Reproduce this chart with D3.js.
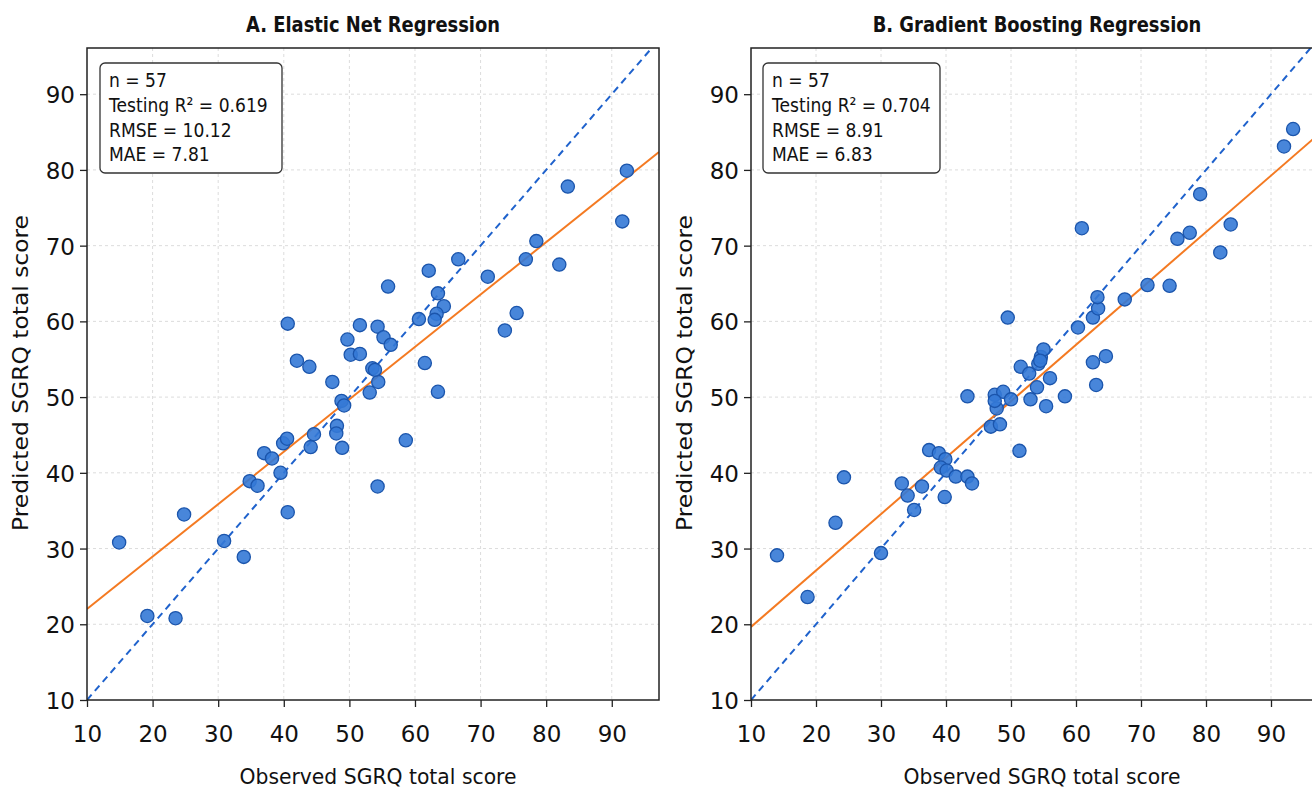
<!DOCTYPE html>
<html lang="en">
<head>
<meta charset="utf-8">
<title>Observed vs predicted SGRQ total score</title>
<script src="https://cdn.jsdelivr.net/npm/d3@7"></script>
<style>
  body { margin: 0; background: #fff; }
  svg text { font-family: "DejaVu Sans", sans-serif; fill: #111; }
  .title { font-size: 22px; font-weight: bold; text-anchor: middle; }
  .axisLabel { font-size: 21px; text-anchor: middle; }
  .tick text { font-size: 23px; }
  .stats { font-size: 20px; }
  .grid line { stroke: #dcdcdc; stroke-dasharray: 3,3; }
</style>
</head>
<body>
<div id="chart"></div>
<script>
// panel A: elastic net, observed / predicted
var enetObserved = [14.9,19.2,23.5,24.8,30.9,33.9,34.8,36.0,40.6,39.5,37.0,38.2,39.9,40.5,40.6,42.0,43.9,44.6,44.1,47.4,
  48.8,49.2,48.1,48.0,48.9,49.7,50.2,51.6,51.6,54.3,53.5,53.1,54.3,55.9,62.1,66.6,63.5,64.4,63.3,63.0,
  60.6,55.2,56.3,71.1,73.7,75.5,76.9,78.5,82.0,83.3,91.6,92.3,54.4,58.6,61.5,63.5,53.9];
var enetPredicted = [30.8,21.1,20.8,34.5,31.0,28.9,38.9,38.3,34.8,40.0,42.6,41.9,43.9,44.5,59.7,54.8,54.0,45.1,43.4,52.0,
  49.5,48.9,46.2,45.2,43.3,57.6,55.6,55.7,59.5,59.3,53.8,50.6,38.2,64.6,66.7,68.2,63.7,62.0,61.0,60.2,
  60.3,57.9,56.9,65.9,58.8,61.1,68.2,70.6,67.5,77.8,73.2,79.9,52.0,44.3,54.5,50.7,53.6];

// panel B: gradient boosting, observed / predicted
var gbObserved = [14.0,18.7,23.0,24.3,30.0,33.2,34.1,35.1,36.3,37.4,38.9,39.9,39.2,40.1,39.8,41.5,43.3,44.0,43.3,46.9,
  48.3,47.5,47.8,48.8,50.0,51.3,53.0,54.0,55.4,49.5,51.5,52.8,54.2,54.6,55.0,56.0,60.3,62.6,63.4,63.3,
  62.6,64.6,60.9,67.5,71.0,74.4,75.6,77.5,79.1,82.2,83.8,92.0,93.4,63.1,58.3,47.5,54.5];
var gbPredicted = [29.1,23.6,33.4,39.4,29.4,38.6,37.0,35.1,38.2,43.0,42.6,41.8,40.7,40.3,36.8,39.5,39.5,38.6,50.1,46.1,
  46.4,50.3,48.5,50.7,49.7,42.9,49.7,51.3,48.8,60.5,54.0,53.1,54.4,55.3,56.3,52.5,59.2,60.5,61.7,63.2,
  54.6,55.4,72.3,62.9,64.8,64.7,70.9,71.7,76.8,69.1,72.8,83.1,85.4,51.6,50.1,49.5,54.8];

var panelTitles = ["A. Elastic Net Regression", "B. Gradient Boosting Regression"];
var statLines = [
  ["n = 57", "Testing R² = 0.619", "RMSE = 10.12", "MAE = 7.81"],
  ["n = 57", "Testing R² = 0.704", "RMSE = 8.91", "MAE = 6.83"]
];
// fitted line (intercept, slope)
var fitIntercept = [15.1, 12.2];
var fitSlope = [0.692, 0.745];
var xTicks = [10,20,30,40,50,60,70,80,90];
var yTicks = [10,20,30,40,50,60,70,80,90];
var xMax = [97.2, 98.0];
var yMax = 96.1;

var W = 1312, H = 789;
var svg = d3.select("#chart").append("svg").attr("width", W).attr("height", H);

var panels = [
  {left: 87, obs: enetObserved, pred: enetPredicted, boxW: 182},
  {left: 751, obs: gbObserved, pred: gbPredicted, boxW: 177}
];
var plotTop = 48, plotW = 572, plotH = 652;

panels.forEach(function(p, i){
  var g = svg.append("g").attr("transform", "translate(" + p.left + "," + plotTop + ")");
  var x = d3.scaleLinear().domain([10, xMax[i]]).range([0, plotW]);
  var y = d3.scaleLinear().domain([10, yMax]).range([plotH, 0]);

  var clipId = "clip" + i;
  g.append("clipPath").attr("id", clipId).append("rect").attr("width", plotW).attr("height", plotH);

  // grid
  g.append("g").attr("class", "grid")
    .selectAll("line").data(xTicks.slice(1)).enter().append("line")
    .attr("x1", function(d){ return x(d); }).attr("x2", function(d){ return x(d); })
    .attr("y1", 0).attr("y2", plotH);
  g.append("g").attr("class", "grid")
    .selectAll("line").data(yTicks.slice(1)).enter().append("line")
    .attr("y1", function(d){ return y(d); }).attr("y2", function(d){ return y(d); })
    .attr("x1", 0).attr("x2", plotW);

  var inner = g.append("g").attr("clip-path", "url(#" + clipId + ")");

  // identity line
  inner.append("line")
    .attr("x1", x(10)).attr("y1", y(10))
    .attr("x2", x(110)).attr("y2", y(110))
    .attr("stroke", "#1f62cc").attr("stroke-width", 2).attr("stroke-dasharray", "7,5");

  // fitted line
  inner.append("line")
    .attr("x1", x(10)).attr("y1", y(fitIntercept[i] + fitSlope[i] * 10))
    .attr("x2", x(xMax[i])).attr("y2", y(fitIntercept[i] + fitSlope[i] * xMax[i]))
    .attr("stroke", "#f47a22").attr("stroke-width", 2);

  // points
  inner.selectAll("circle").data(p.obs).enter().append("circle")
    .attr("cx", function(d){ return x(d); })
    .attr("cy", function(d, j){ return y(p.pred[j]); })
    .attr("r", 6.6)
    .attr("fill", "#3479d6").attr("fill-opacity", 0.9)
    .attr("stroke", "#1b55ac").attr("stroke-width", 1.3);

  // frame
  g.append("rect").attr("width", plotW).attr("height", plotH)
    .attr("fill", "none").attr("stroke", "#222").attr("stroke-width", 1.5);

  // axes
  var xa = g.append("g").attr("transform", "translate(0," + plotH + ")")
    .call(d3.axisBottom(x).tickValues(xTicks).tickSize(7));
  var ya = g.append("g")
    .call(d3.axisLeft(y).tickValues(yTicks).tickSize(7));
  [xa, ya].forEach(function(a){
    a.select(".domain").remove();
    a.selectAll(".tick line").attr("stroke", "#222").attr("stroke-width", 1.3);
    a.attr("font-family", null).attr("font-size", null);
  });
  xa.selectAll(".tick text")
    .attr("y", null).attr("dy", null)
    .attr("text-anchor", "middle")
    .attr("transform", "translate(0,42)");
  ya.selectAll(".tick text")
    .attr("x", null).attr("dy", null)
    .attr("text-anchor", "end")
    .attr("transform", "translate(-12,8.5)");

  // titles and labels
  svg.append("text").attr("class", "title")
    .attr("transform", "translate(" + (p.left + plotW / 2) + ",32) scale(0.815,1)")
    .text(panelTitles[i]);
  svg.append("text").attr("class", "axisLabel")
    .attr("x", p.left + plotW / 2 + 5).attr("y", 784)
    .attr("textLength", 277).attr("lengthAdjust", "spacingAndGlyphs")
    .text("Observed SGRQ total score");
  svg.append("text").attr("class", "axisLabel")
    .attr("transform", "translate(" + (p.left - 59) + "," + (plotTop + plotH / 2 - 1) + ") rotate(-90)")
    .attr("textLength", 316).attr("lengthAdjust", "spacingAndGlyphs")
    .text("Predicted SGRQ total score");

  // stats box
  var bx = i === 0 ? 13 : 12, by = 15;
  g.append("rect").attr("x", bx).attr("y", by).attr("width", p.boxW).attr("height", 110)
    .attr("rx", 5).attr("fill", "#fff").attr("stroke", "#333").attr("stroke-width", 1.3);
  var st = g.append("g").attr("transform", "translate(" + (bx + 9) + "," + by + ") scale(0.857,1)");
  st.selectAll("text").data(statLines[i]).enter().append("text")
    .attr("class", "stats")
    .attr("x", 0)
    .attr("y", function(d, k){ return 24 + k * 24.8; })
    .text(function(d){ return d; });
});
</script>
</body>
</html>
